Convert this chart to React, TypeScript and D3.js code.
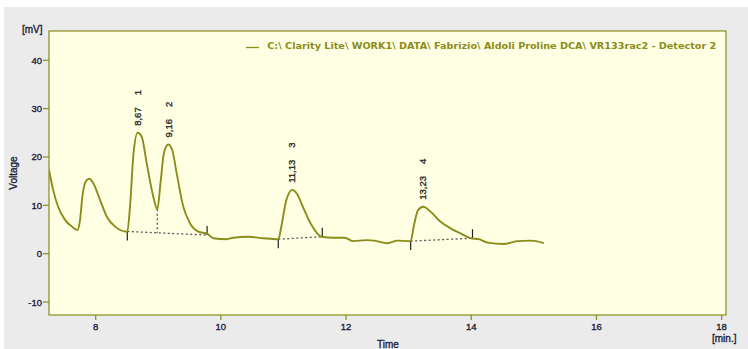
import React from "react";
import * as d3 from "d3";

// Chromatogram trace (time in min, signal in mV)
const times = [
  7.254, 7.32, 7.4, 7.51, 7.62, 7.71, 7.75, 7.79, 7.856, 7.9, 7.96, 8.07, 8.176, 8.31, 8.505,
  8.548, 8.6, 8.67, 8.735, 8.815, 8.92, 8.984, 9.04, 9.09, 9.16, 9.224, 9.294, 9.4, 9.506, 9.64,
  9.783, 9.88, 10.09, 10.2, 10.44, 10.68, 10.917, 10.97, 11.04, 11.14, 11.21, 11.32, 11.45, 11.61,
  11.8, 11.98, 12.11, 12.33, 12.45, 12.66, 12.82, 13.032, 13.085, 13.15, 13.233, 13.35, 13.51,
  13.67, 13.83, 13.99, 14.12, 14.26, 14.52, 14.73, 14.95, 15.16,
];
const signal = [
  17.3, 13.2, 9.7, 7.0, 5.6, 4.9, 7.0, 12.1, 15.2, 15.5, 14.6, 11.1, 7.7, 5.6, 4.55,
  9.7, 20.1, 25.0, 24.2, 18.7, 11.8, 9.2, 15.2, 20.8, 22.6, 21.4, 16.6, 9.7, 6.3, 4.55,
  4.1, 3.2, 3.0, 3.3, 3.5, 3.2, 3.0, 5.9, 10.8, 13.2, 12.5, 9.4, 5.9, 3.5,
  3.3, 3.3, 2.6, 2.8, 2.7, 2.15, 2.7, 2.6, 5.9, 9.0, 9.7, 8.7, 6.6,
  5.25, 4.2, 3.2, 3.0, 2.3, 2.0, 2.6, 2.7, 2.2,
];

// Peaks
const peakTimes = [8.67, 9.16, 11.13, 13.23];
const peakHeights = [25.0, 22.6, 13.2, 9.7];
const peakLabels = ["8,67", "9,16", "11,13", "13,23"];
const peakNumbers = ["1", "2", "3", "4"];

// Integration baselines
const baseStartT = [8.505, 10.917, 13.032];
const baseStartV = [4.6, 3.0, 2.6];
const baseEndT = [9.78, 11.62, 14.02];
const baseEndV = [3.85, 3.5, 3.2];
// Valley drop line
const dropT = [8.984];
const dropTopV = [9.2];
const dropBottomV = [4.32];

const xTicks = [8, 10, 12, 14, 16, 18];
const yTicks = [-10, 0, 10, 20, 30, 40];
const legendText = "C:\\ Clarity Lite\\ WORK1\\ DATA\\ Fabrizio\\ Aldoli Proline DCA\\ VR133rac2 - Detector 2";

const W = 748;
const H = 349;
const L = 49, R = 726, T = 31, B = 315;

export default function App() {
  const x = d3.scaleLinear().domain([7.254, 18.07]).range([L, R]);
  const y = d3.scaleLinear().domain([-12.68, 46.06]).range([B, T]);
  const pts: [number, number][] = times.map((t, i) => [t, signal[i]]);
  const line = d3
    .line<[number, number]>()
    .x((d) => x(d[0]))
    .y((d) => y(d[1]))
    .curve(d3.curveMonotoneX);

  const olive = "#8c8c1c";
  const tickFill = "#1e1e38";
  const font = "'Liberation Sans', Arial, sans-serif";
  const heavy = { stroke: tickFill, strokeWidth: 0.35 } as const;

  return (
    <svg
      width={W}
      height={H}
      style={{ position: "absolute", left: 0, top: 0, display: "block" }}
      fontFamily={font}
    >
      <rect x={0} y={0} width={W} height={H} fill="#ffffff" />
      <rect x={4} y={7} width={W - 4} height={H - 7} fill="#ebebeb" />
      <defs>
        <clipPath id="plotclip">
          <rect x={L} y={T} width={R - L} height={B - T} />
        </clipPath>
      </defs>
      <rect x={L} y={T} width={R - L} height={B - T} fill="#ffffe3" stroke={olive} strokeWidth={1.2} />

      {/* Y axis */}
      {yTicks.map((v) => (
        <g key={"y" + v}>
          <line x1={L - 6} x2={L} y1={y(v)} y2={y(v)} stroke={olive} strokeWidth={1.2} />
          <text x={L - 7} y={y(v) + 3.5} textAnchor="end" fontSize={9.5} fill={tickFill} {...heavy}>
            {v}
          </text>
        </g>
      ))}
      {/* X axis */}
      {xTicks.map((v) => (
        <g key={"x" + v}>
          <line x1={x(v)} x2={x(v)} y1={B} y2={B + 5} stroke={olive} strokeWidth={1.2} />
          <text x={x(v)} y={330} textAnchor="middle" fontSize={9.5} fill={tickFill} {...heavy}>
            {v}
          </text>
        </g>
      ))}
      <text x={22} y={33} fontSize={10} fill={tickFill} {...heavy}>[mV]</text>
      <text x={712} y={342} fontSize={10} fill={tickFill} {...heavy}>[min.]</text>
      <text x={377} y={348} fontSize={10} fill={tickFill} {...heavy}>Time</text>
      <text
        transform={`translate(17,173) rotate(-90)`}
        textAnchor="middle"
        fontSize={10}
        fill={tickFill}
        {...heavy}
      >
        Voltage
      </text>

      {/* Legend */}
      <line x1={246} x2={259} y1={47.5} y2={47.5} stroke={olive} strokeWidth={1.3} />
      <text
        x={267.3}
        y={48.8}
        fontSize={9}
        fontWeight="bold"
        fontFamily="'DejaVu Sans', Verdana, sans-serif"
        fill={olive}
        textLength={449}
        lengthAdjust="spacingAndGlyphs"
      >
        {legendText}
      </text>

      <g clipPath="url(#plotclip)">
        {baseStartT.map((t, i) => (
          <g key={"b" + i}>
            <line
              x1={x(t)}
              y1={y(baseStartV[i])}
              x2={x(baseEndT[i])}
              y2={y(baseEndV[i])}
              stroke="#555555"
              strokeWidth={1.3}
              strokeDasharray="2,2.5"
            />
            <line x1={x(t)} x2={x(t)} y1={y(baseStartV[i])} y2={y(baseStartV[i]) + 9} stroke="#222" strokeWidth={1.2} />
            <line
              x1={x(baseEndT[i])}
              x2={x(baseEndT[i])}
              y1={y(baseEndV[i]) - 9}
              y2={y(baseEndV[i])}
              stroke="#222"
              strokeWidth={1.2}
            />
          </g>
        ))}
        {dropT.map((t, i) => (
          <line
            key={"d" + i}
            x1={x(t)}
            x2={x(t)}
            y1={y(dropTopV[i])}
            y2={y(dropBottomV[i])}
            stroke="#555555"
            strokeWidth={1.3}
            strokeDasharray="2,2.5"
          />
        ))}
        <path d={line(pts) || ""} fill="none" stroke={olive} strokeWidth={1.9} strokeLinejoin="round" />
      </g>

      {/* Peak labels */}
      {peakTimes.map((t, i) => (
        <text
          key={"p" + i}
          transform={`translate(${x(t) + 3.3},${y(peakHeights[i]) - 7}) rotate(-90)`}
          fontSize={9.5}
          fill="#222222"
          stroke="#222222"
          strokeWidth={0.3}
        >
          {peakLabels[i]}
          <tspan dx={12}>{peakNumbers[i]}</tspan>
        </text>
      ))}
    </svg>
  );
}
